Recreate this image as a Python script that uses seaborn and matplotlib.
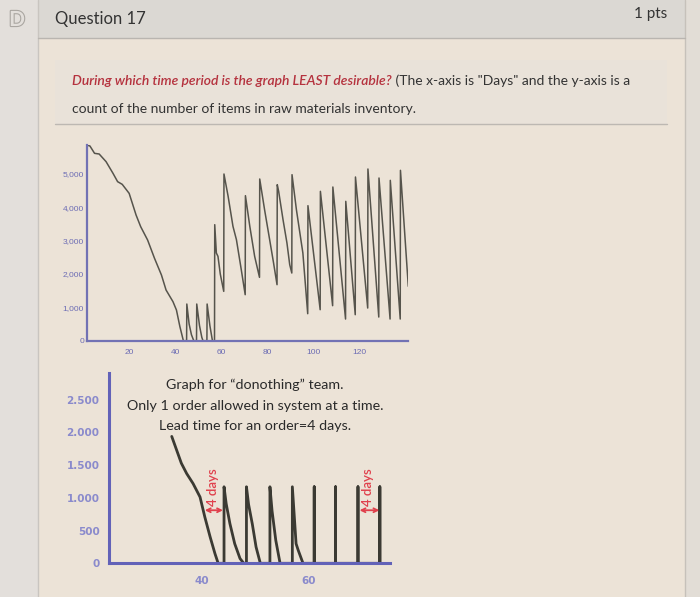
import matplotlib
matplotlib.use("Agg")
import matplotlib.pyplot as plt
import matplotlib.patheffects as pe
from matplotlib.patches import Rectangle
from matplotlib.ticker import FuncFormatter
import seaborn as sns

# =====================
# data
# =====================
# top chart: raw materials inventory (days, items)
top_days = [1.6, 3, 5, 7, 10, 13, 15, 17, 20, 23, 25, 28, 31, 34, 36, 39, 40.5, 42, 43.5,
            44.9, 45.0, 46, 47, 48,
            49.2, 49.3, 50.5, 51.5, 52,
            53.7, 53.8, 55, 56.1,
            57.0, 57.1, 57.8, 58.5, 59.5, 61.0,
            61.1, 62.9, 65, 66.5, 68.6, 70.3,
            70.4, 72.3, 74.4, 76.5,
            76.6, 78.7, 80.9, 82.6, 84.1,
            84.2, 84.8, 86.7, 88.4, 89.6, 90.5,
            90.6, 92.5, 95.3, 97.4,
            97.5, 102.8,
            102.9, 108.2,
            108.3, 113.8,
            113.9, 118.0,
            118.1, 123.4,
            123.5, 128.2,
            128.3, 133.1,
            133.2, 137.5,
            137.6, 141.0]
top_inv = [5870, 5840, 5620, 5600, 5370, 5020, 4770, 4690, 4420, 3770, 3420, 3020, 2470, 1970, 1520, 1170, 920, 420, 0,
           0, 1100, 500, 180, 0,
           0, 1100, 450, 100, 0,
           0, 1100, 450, 0,
           0, 3480, 2630, 2530, 2000, 1480,
           5000, 4330, 3430, 3030, 2130, 1380,
           4350, 3430, 2530, 1900,
           4850, 3930, 3030, 2330, 1680,
           4680, 4480, 3630, 2930, 2280, 2030,
           4980, 3930, 2630, 810,
           4050, 930,
           4480, 1050,
           4610, 650,
           4180, 780,
           4910, 980,
           5150, 710,
           4880, 650,
           4810, 650,
           5110, 1630]
top_xticks = [20, 40, 60, 80, 100, 120]
top_yticks = [0, 1000, 2000, 3000, 4000, 5000]

# bottom chart: "donothing" team
bot_days = [34.4, 35.3, 36.2, 37.2, 38.4, 39.7, 40.6, 41.6, 42.5, 43.1, 44.2,
            44.2, 44.6, 45.3, 46.2, 47.2, 47.9, 48.4,
            48.4, 48.8, 49.5, 50.2, 51.0, 52.8,
            52.8, 53.2, 53.9, 54.7, 57.0,
            57.0, 57.7, 58.1, 59.0, 61.1,
            61.1, 61.1, 65.1,
            65.1, 65.1, 69.3,
            69.3, 69.3, 73.4,
            73.4, 73.4]
bot_inv = [1940, 1735, 1530, 1372, 1219, 1014, 708, 402, 148, 0, 0,
           1170, 913, 607, 300, 72, 0, 0,
           1170, 900, 600, 250, 0, 0,
           1170, 800, 350, 0, 0,
           1170, 300, 200, 0, 0,
           1170, 0, 0,
           1170, 0, 0,
           1170, 0, 0,
           1170, 0]
bot_xticks = [40, 60]
bot_yticks = [0, 500, 1000, 1500, 2000, 2500]
lead_spans = [(40.6, 44.0), (69.6, 73.3)]

note_lines = ["Graph for \u201cdonothing\u201d team.",
              "Only 1 order allowed in system at a time.",
              "Lead time for an order=4 days."]

# =====================
# page
# =====================
sns.set_theme(style="white")
plt.rcParams["font.family"] = ["Lato", "DejaVu Sans"]

fig = plt.figure(figsize=(7, 5.97), dpi=100)
fig.patch.set_facecolor("#ece3d7")

bg = fig.add_axes([0, 0, 1, 1], zorder=0)
bg.set_xlim(0, 700)
bg.set_ylim(597, 0)
bg.axis("off")

bg.add_patch(Rectangle((0, 0), 38, 597, color="#e3dfdb", lw=0))
bg.add_patch(Rectangle((38, 0), 647, 38, color="#dbd8d3", lw=0))
bg.add_patch(Rectangle((685, 0), 15, 597, color="#e2ddd6", lw=0))
bg.add_patch(Rectangle((55, 60), 612, 64, color="#e9e2d9", lw=0))
bg.plot([38, 38], [0, 597], color="#c9c5c0", lw=1)
bg.plot([685, 685], [0, 597], color="#c6c1ba", lw=1)
bg.plot([38, 685], [38, 38], color="#b9b5b0", lw=1)
bg.plot([55, 667], [124, 124], color="#bdb8b2", lw=1)

bg.text(17, 20, "D", fontsize=15, fontweight="bold", color="#e3dfdb",
        ha="center", va="center",
        path_effects=[pe.withStroke(linewidth=1.6, foreground="#aaa6a1")])
bg.text(55, 19, "Question 17", fontsize=12, color="#333333", va="center")
bg.text(667, 14, "1 pts", fontsize=11, color="#333333", va="center", ha="right")

q_red = bg.text(72, 81, "During which time period is the graph LEAST desirable?",
                fontsize=10, style="italic", fontweight="semibold",
                color="#b5323e", va="center")
bg.annotate(" (The x-axis is \"Days\" and the y-axis is a", xy=(1, 0.5),
            xycoords=q_red, va="center", fontsize=10, color="#333333")
bg.text(72, 109, "count of the number of items in raw materials inventory.",
        fontsize=10, color="#333333", va="center")

# =====================
# top chart
# =====================
ax1 = fig.add_axes([86.7 / 700, 1 - 340.7 / 597, 321.6 / 700, 195.7 / 597], zorder=2)
ax1.patch.set_alpha(0)
sns.lineplot(x=top_days, y=top_inv, sort=False, estimator=None,
             color="#56544c", lw=1.1, ax=ax1)
ax1.set_xlim(1.6, 141)
ax1.set_ylim(0, 5870)
ax1.set_xticks(top_xticks)
ax1.set_yticks(top_yticks)
ax1.yaxis.set_major_formatter(FuncFormatter(lambda v, _: f"{v:,.0f}"))
for s in ["top", "right"]:
    ax1.spines[s].set_visible(False)
for s in ["left", "bottom"]:
    ax1.spines[s].set_color("#7272b4")
    ax1.spines[s].set_linewidth(1.6)
ax1.tick_params(length=0, labelsize=6, labelcolor="#6c6cb4")
ax1.tick_params(axis="y", pad=2)
ax1.tick_params(axis="x", pad=6)
for lab in ax1.get_xticklabels() + ax1.get_yticklabels():
    lab.set_family("Liberation Sans")

# =====================
# bottom chart
# =====================
ax2 = fig.add_axes([109.3 / 700, 1 - 563.3 / 597, 280.7 / 700, 190 / 597], zorder=2)
ax2.patch.set_alpha(0)
sns.lineplot(x=bot_days, y=bot_inv, sort=False, estimator=None,
             color="#3b3a33", lw=2.0, ax=ax2)
ax2.set_xlim(22.7, 75.3)
ax2.set_ylim(0, 2905)
ax2.set_xticks(bot_xticks)
ax2.set_yticks(bot_yticks)
ax2.yaxis.set_major_formatter(FuncFormatter(lambda v, _: f"{v:,.0f}".replace(",", ".")))
for s in ["top", "right"]:
    ax2.spines[s].set_visible(False)
for s in ["left", "bottom"]:
    ax2.spines[s].set_color("#6262b8")
    ax2.spines[s].set_linewidth(2.2)
ax2.tick_params(length=0, labelsize=7.5, labelcolor="#8a8acc")
ax2.tick_params(axis="y", pad=7)
ax2.tick_params(axis="x", pad=9)
for lab in ax2.get_xticklabels() + ax2.get_yticklabels():
    lab.set_family("DejaVu Sans")
    lab.set_fontweight("bold")

for x0, x1 in lead_spans:
    ax2.annotate("", xy=(x0, 811), xytext=(x1, 811),
                 arrowprops=dict(arrowstyle="<->", color="#e0404c", lw=1.3,
                                 mutation_scale=7, shrinkA=0, shrinkB=0))
    ax2.text((x0 + x1) / 2 - 0.2, 870, "4 days", rotation=90, fontsize=9.5,
             fontweight="semibold", color="#e0404c", ha="center", va="bottom")

for i, line in enumerate(note_lines):
    bg.text(255, 385 + i * 20.5, line, fontsize=10.3, color="#2a2a2a",
            ha="center", va="center", zorder=3)

fig.savefig("out.png", dpi=100)
